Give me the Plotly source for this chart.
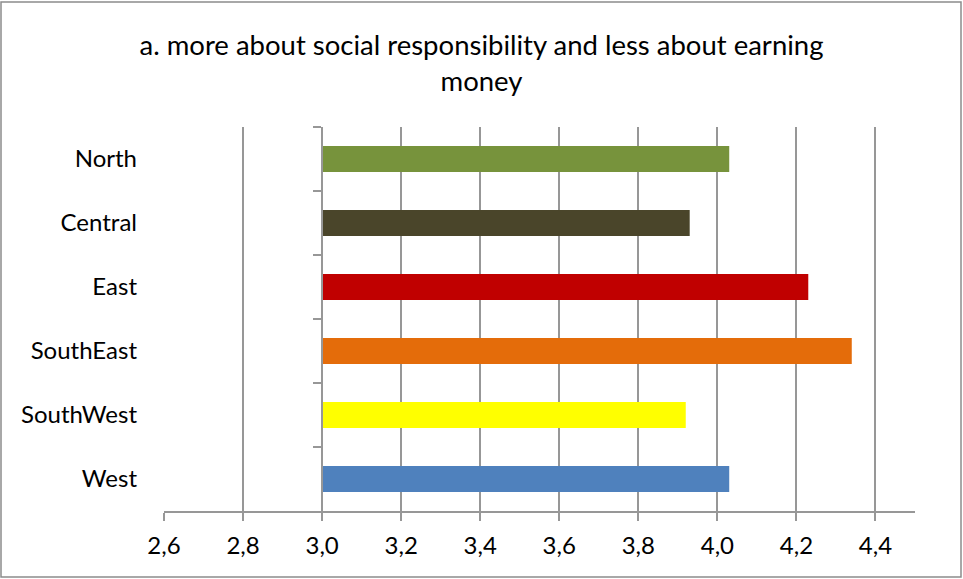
import plotly.graph_objects as go

regions = ["North", "Central", "East", "SouthEast", "SouthWest", "West"]
scores = [4.03, 3.93, 4.23, 4.34, 3.92, 4.03]
bar_colors = ["#77933C", "#4A452A", "#C00000", "#E46C0A", "#FFFF00", "#4F81BD"]
tick_values = [2.6, 2.8, 3.0, 3.2, 3.4, 3.6, 3.8, 4.0, 4.2, 4.4]
baseline = 3.0
x_range = [2.6, 4.5]
title_text = "a. more about social responsibility and less about earning<br>money"

W, H = 963, 579
L, R, T, B = 164, 48, 127, 68
font_family = "Lato, 'Open Sans', sans-serif"
grid_col = "#979797"

fig = go.Figure()
fig.add_trace(go.Bar(
    y=regions, x=[s - baseline for s in scores], base=baseline,
    orientation="h", marker=dict(color=bar_colors, line=dict(width=0)),
    customdata=scores, hovertemplate="%{y}: %{customdata}<extra></extra>",
    showlegend=False,
))
# invisible trace to carry the axis drawn at x = 3.0
fig.add_trace(go.Scatter(
    y=regions, x=[baseline] * len(regions), yaxis="y2", mode="none",
    showlegend=False, hoverinfo="skip",
))

pos = (baseline - x_range[0]) / (x_range[1] - x_range[0])

fig.update_layout(
    width=W, height=H,
    margin=dict(l=L, r=R, t=T, b=B),
    paper_bgcolor="white", plot_bgcolor="white",
    separators=", ",
    bargap=0.59,
    font=dict(family=font_family, color="#000000", size=24),
    title=dict(text=title_text, x=0.5, xanchor="center",
               y=1 - 55 / H, yref="container", yanchor="middle",
               font=dict(size=27.5, family=font_family, color="#000000")),
    xaxis=dict(
        range=x_range, tickvals=tick_values, tickformat=".1f",
        showgrid=True, gridcolor=grid_col, gridwidth=1.8,
        showline=True, linecolor=grid_col, linewidth=1.8,
        ticks="outside", ticklen=8, tickcolor=grid_col, tickwidth=1.8,
        tickfont=dict(size=24), zeroline=False, domain=[0, 1],
        ticklabelstandoff=4,
    ),
    yaxis=dict(
        type="category", categoryorder="array", categoryarray=regions,
        autorange="reversed", showgrid=False, showline=False,
        ticks="", tickfont=dict(size=24), ticklabelstandoff=26,
        zeroline=False,
    ),
    yaxis2=dict(
        type="category", categoryorder="array", categoryarray=regions,
        autorange="reversed", overlaying="y", matches="y",
        anchor="free", position=pos, side="left",
        showgrid=False, showline=True, linecolor=grid_col, linewidth=2,
        ticks="outside", tickson="boundaries", ticklen=8,
        tickcolor=grid_col, tickwidth=2, showticklabels=False,
        zeroline=False,
    ),
)

pw = W - L - R
ph = H - T - B
fig.add_shape(
    type="rect", xref="paper", yref="paper",
    x0=(1 - L) / pw, x1=(W - 2 - L) / pw,
    y0=-(H - 2 - (T + ph)) / ph, y1=(H - 2 - B) / ph,
    line=dict(color="#8c8c8c", width=1.5), fillcolor="rgba(0,0,0,0)",
    layer="below",
)

fig.write_html(
    "out.html",
    config={"displayModeBar": False},
    post_script="document.body.style.margin='0';document.body.style.overflow='hidden';",
)
